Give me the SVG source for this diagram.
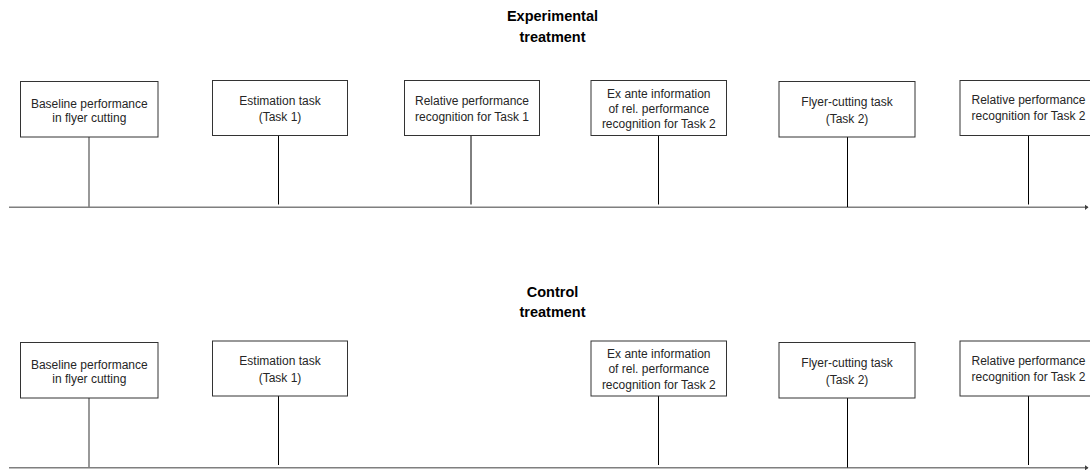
<svg xmlns="http://www.w3.org/2000/svg" width="1090" height="470" viewBox="0 0 1090 470">
<defs>
<style>
.box{fill:#fff;stroke:#333;stroke-width:1}
.lbl{font-family:"Liberation Sans",Arial,sans-serif;font-size:12px;fill:#262626;text-anchor:middle}
.ttl{font-family:"Liberation Sans",Arial,sans-serif;font-size:14.5px;font-weight:bold;fill:#000;text-anchor:middle}
.axis{stroke:#7f7f7f;stroke-width:1.6;fill:none}
.tick{stroke:#000;stroke-width:1;fill:none}
.tick0{stroke:#7f7f7f;stroke-width:1.6;fill:none}
</style>
<marker id="arr" markerWidth="4" markerHeight="6" refX="3.5" refY="3" orient="auto" markerUnits="userSpaceOnUse">
<path d="M0,0 L4,3 L0,6 Z" fill="#404040"/>
</marker>
</defs>
<rect width="1090" height="470" fill="#fff"/>

<g id="title-experimental">
<text class="ttl" x="552.5" y="20.5">Experimental</text>
<text class="ttl" x="552.5" y="41.5">treatment</text>
</g>
<g id="title-control">
<text class="ttl" x="552.5" y="296.5">Control</text>
<text class="ttl" x="552.5" y="316.5">treatment</text>
</g>

<g id="connectors">
<line class="axis" x1="9" y1="207.3" x2="1088" y2="207.3" marker-end="url(#arr)"/>
<line class="tick0" x1="89" y1="137" x2="89" y2="207"/>
<line class="tick" x1="278.5" y1="135.5" x2="278.5" y2="204.5"/>
<line class="tick" x1="471" y1="135.5" x2="471" y2="204.5"/>
<line class="tick" x1="658.5" y1="135.5" x2="658.5" y2="204.5"/>
<line class="tick" x1="847.5" y1="137" x2="847.5" y2="207"/>
<line class="tick" x1="1028.5" y1="135.5" x2="1028.5" y2="204.5"/>

<line class="axis" x1="9" y1="467.8" x2="1088" y2="467.8" marker-end="url(#arr)"/>
<line class="tick0" x1="89" y1="398" x2="89" y2="467.5"/>
<line class="tick" x1="278.5" y1="396" x2="278.5" y2="465"/>
<line class="tick" x1="658.5" y1="396" x2="658.5" y2="465"/>
<line class="tick" x1="847.5" y1="398" x2="847.5" y2="467.5"/>
<line class="tick" x1="1028.5" y1="396" x2="1028.5" y2="465"/>
</g>

<g id="exp-baseline">
<rect class="box" x="20.5" y="81.5" width="137.5" height="55.5"/>
<text class="lbl" x="89.3" y="107.5">Baseline performance</text>
<text class="lbl" x="89.3" y="122">in flyer cutting</text>
</g>
<g id="exp-estimation">
<rect class="box" x="212.5" y="80.5" width="135" height="55"/>
<text class="lbl" x="280" y="104.5">Estimation task</text>
<text class="lbl" x="280" y="121">(Task 1)</text>
</g>
<g id="exp-recognition1">
<rect class="box" x="404.5" y="80.5" width="135" height="55"/>
<text class="lbl" x="472" y="104.5">Relative performance</text>
<text class="lbl" x="472" y="121">recognition for Task 1</text>
</g>
<g id="exp-exante">
<rect class="box" x="591" y="80.5" width="135.5" height="55"/>
<text class="lbl" x="658.8" y="97.5">Ex ante information</text>
<text class="lbl" x="658.8" y="112.5">of rel. performance</text>
<text class="lbl" x="658.8" y="128">recognition for Task 2</text>
</g>
<g id="exp-flyer">
<rect class="box" x="779" y="81.5" width="136" height="55.5"/>
<text class="lbl" x="847" y="106">Flyer-cutting task</text>
<text class="lbl" x="847" y="122.5">(Task 2)</text>
</g>
<g id="exp-recognition2">
<rect class="box" x="960" y="80.5" width="137" height="55"/>
<text class="lbl" x="1028.5" y="104">Relative performance</text>
<text class="lbl" x="1028.5" y="120">recognition for Task 2</text>
</g>

<g id="ctl-baseline">
<rect class="box" x="20.5" y="342.5" width="137.5" height="55.5"/>
<text class="lbl" x="89.3" y="368.5">Baseline performance</text>
<text class="lbl" x="89.3" y="383">in flyer cutting</text>
</g>
<g id="ctl-estimation">
<rect class="box" x="212.5" y="341" width="135" height="55"/>
<text class="lbl" x="280" y="365">Estimation task</text>
<text class="lbl" x="280" y="381.5">(Task 1)</text>
</g>
<g id="ctl-exante">
<rect class="box" x="591" y="341" width="135.5" height="55"/>
<text class="lbl" x="658.8" y="358">Ex ante information</text>
<text class="lbl" x="658.8" y="373">of rel. performance</text>
<text class="lbl" x="658.8" y="388.5">recognition for Task 2</text>
</g>
<g id="ctl-flyer">
<rect class="box" x="779" y="342.5" width="136" height="55.5"/>
<text class="lbl" x="847" y="367">Flyer-cutting task</text>
<text class="lbl" x="847" y="383.5">(Task 2)</text>
</g>
<g id="ctl-recognition2">
<rect class="box" x="960" y="341" width="137" height="55"/>
<text class="lbl" x="1028.5" y="364.5">Relative performance</text>
<text class="lbl" x="1028.5" y="380.5">recognition for Task 2</text>
</g>
</svg>
